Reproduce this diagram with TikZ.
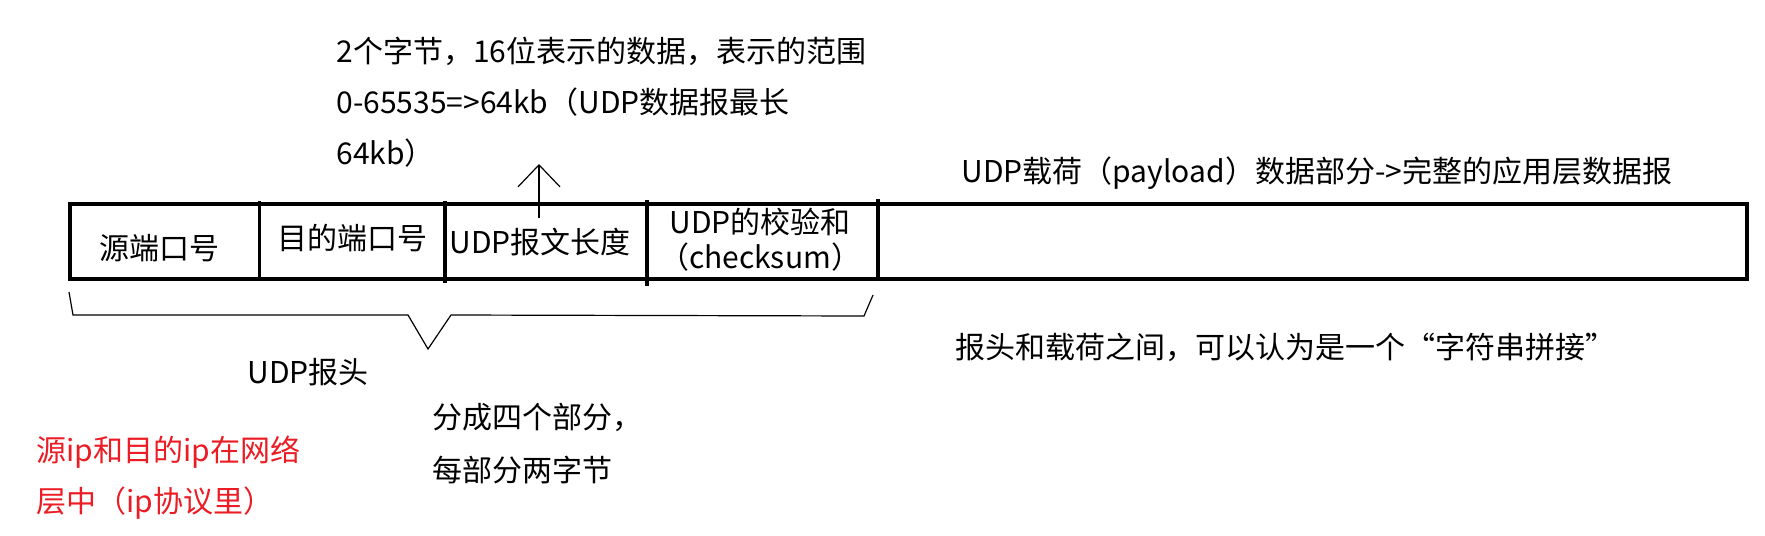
\documentclass[tikz,border=0pt]{standalone}
\usepackage{fontspec}
\setmainfont{Noto Sans CJK SC}
\usepackage{xcolor}
\usepackage{tikz}
\usetikzlibrary{arrows.meta}
\definecolor{ipred}{RGB}{236,28,36}

\begin{document}
\begin{tikzpicture}[x=0.5pt,y=-0.5pt,
    every node/.style={inner sep=0pt,font=\fontsize{15pt}{18pt}\selectfont},
    field/.style={align=center,font=\fontsize{15pt}{17.5pt}\selectfont},
    note/.style={anchor=west,align=left,font=\fontsize{15pt}{25.5pt}\selectfont},
    frame/.style={line width=2.2pt},
    sep/.style={line width=1.9pt},
    pen/.style={line width=0.6pt},
    >={Straight Barb[length=11pt,width=21pt]}]
    \useasboundingbox (0,0) rectangle (1765,535);

    \draw[frame] (70,204) rectangle (1747,279);
    \draw[sep] (259.5,201) -- (259.5,281);
    \draw[sep] (445,201) -- (445,283);
    \draw[sep] (647,200) -- (647,286);
    \draw[sep] (878,199) -- (878,280);

    \node (srcport) at (159,248) {源端口号};
    \node (dstport) at (352,238) {目的端口号};
    \node (udplen) at (540,242) {UDP报文长度};
    \node[field] (chksum) at (760,240) {UDP的校验和\\（checksum）};

    \node[note] (lennote) at (336,102) {2个字节，16位表示的数据，表示的范围\\0-65535=>64kb（UDP数据报最长\\64kb）};
    \coordinate (lenfoot) at (539,218);
    \coordinate (lentip) at (539,164);
    \draw[pen,->] (lenfoot) -- (lentip);

    \node[anchor=west] (payload) at (961,173) {UDP载荷（payload）数据部分->完整的应用层数据报};
    \node[anchor=west] (concat) at (955,347) {报头和载荷之间，可以认为是一个“字符串拼接”};

    \draw[pen] (69,292) -- (73,315) -- (408,315) -- (428,349) -- (451,315) -- (864,316) -- (873,295);
    \node (udphdr) at (308,372) {UDP报头};
    \node[note,font=\fontsize{15pt}{26.5pt}\selectfont] (fourparts) at (432,443.5) {分成四个部分，\\每部分两字节};
    \node[note,font=\fontsize{15pt}{25.5pt}\selectfont,text=ipred] (ipnote) at (36,477.5) {源ip和目的ip在网络\\层中（ip协议里）};
\end{tikzpicture}
\end{document}
